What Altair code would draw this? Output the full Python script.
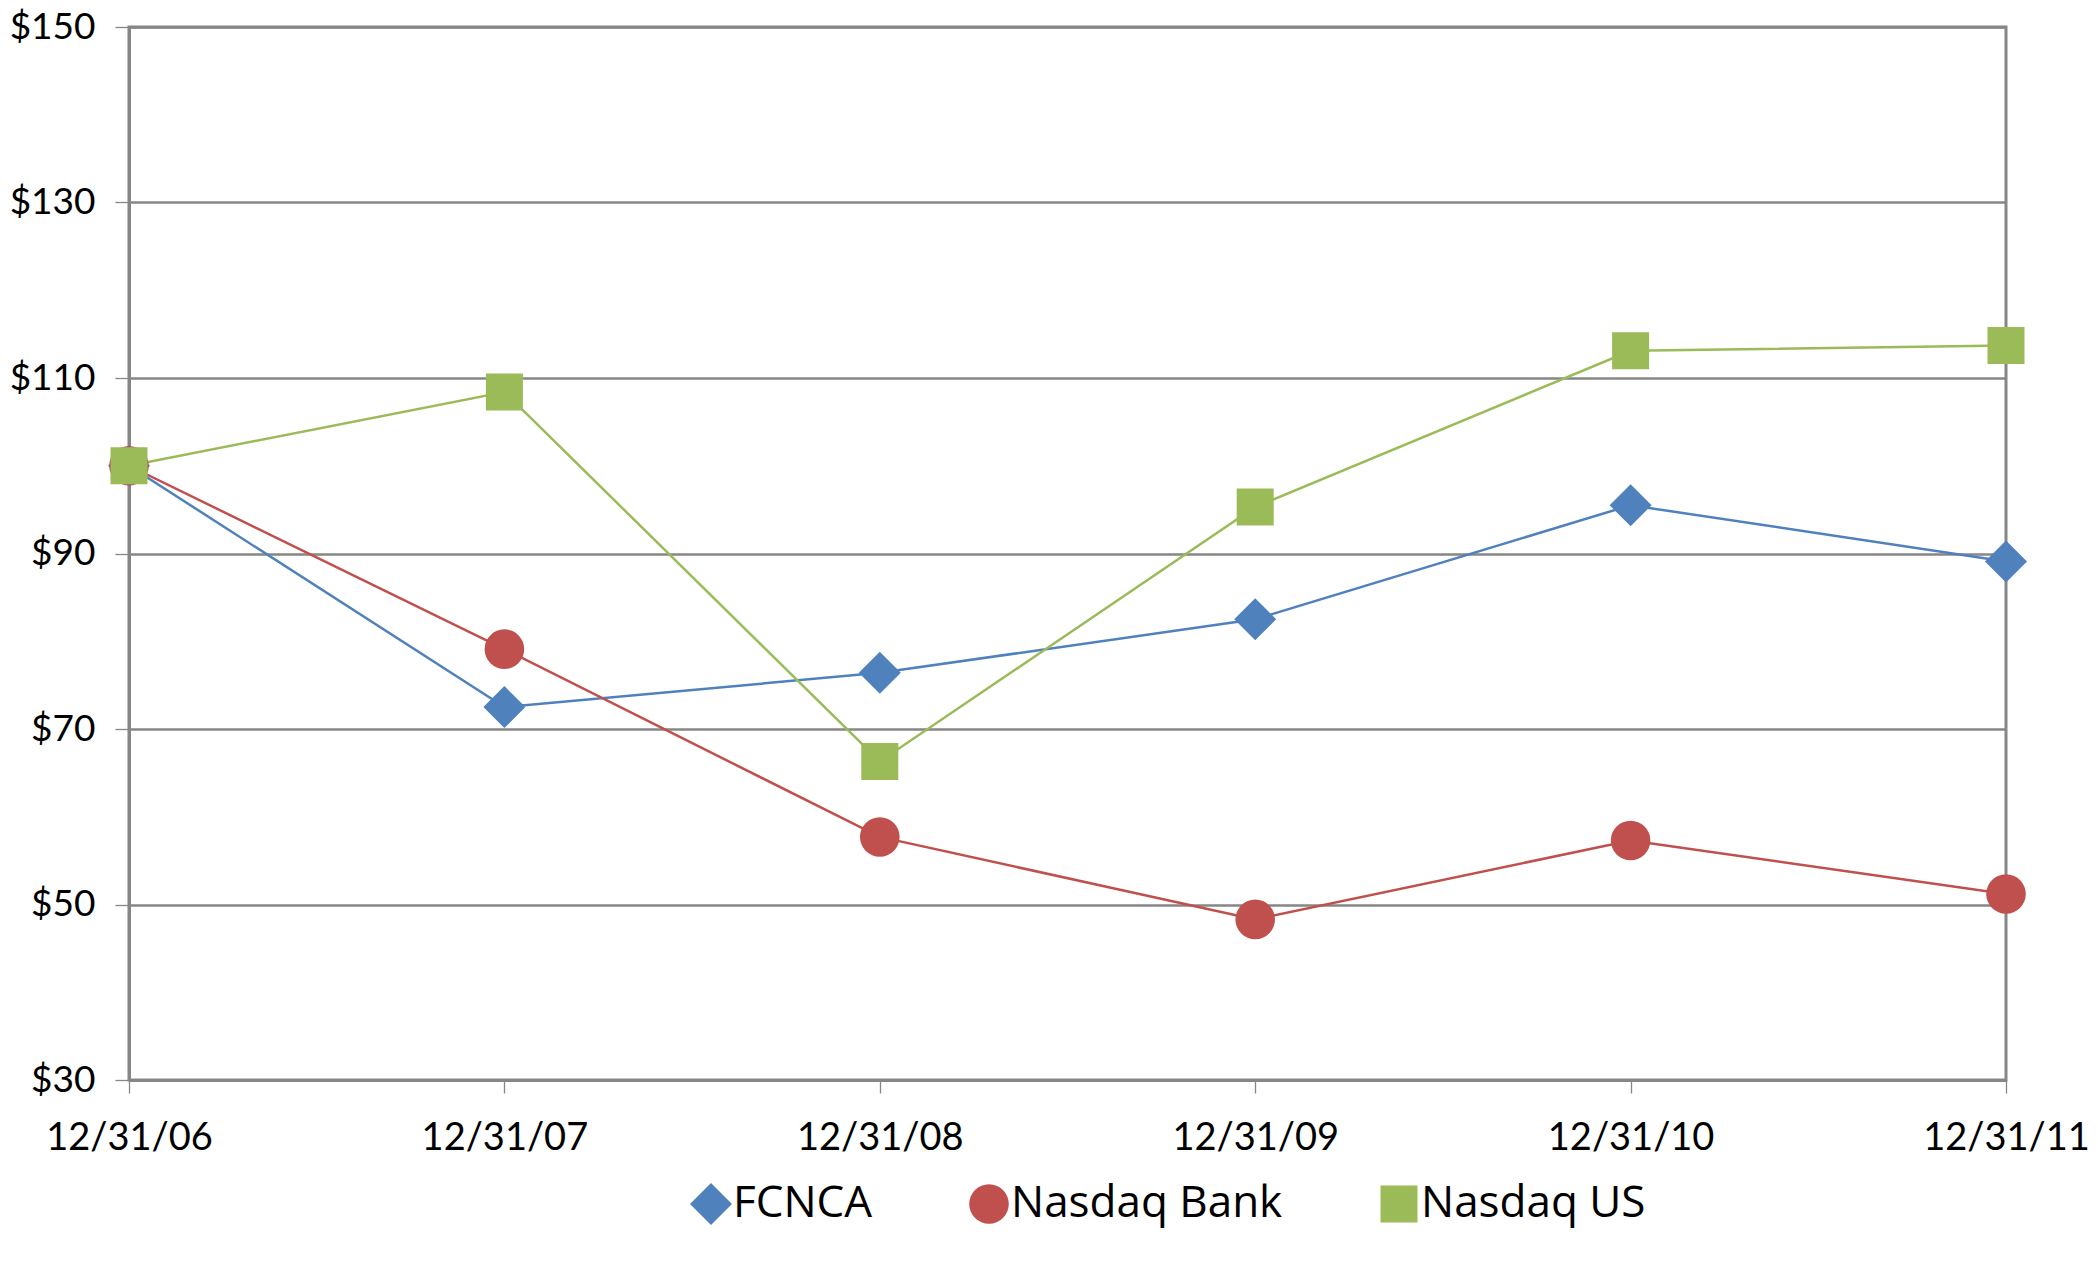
import altair as alt
import pandas as pd

dates = ["12/31/06", "12/31/07", "12/31/08", "12/31/09", "12/31/10", "12/31/11"]
fcnca = [100.0, 72.5, 76.4, 82.5, 95.5, 89.1]
nasdaq_bank = [100.0, 79.1, 57.7, 48.3, 57.3, 51.2]
nasdaq_us = [100.0, 108.4, 66.3, 95.3, 113.1, 113.7]

series_names = ["FCNCA", "Nasdaq Bank", "Nasdaq US"]
series_colors = ["#4F81BD", "#C0504D", "#9BBB59"]
series_shapes = ["diamond", "circle", "square"]
y_ticks = [30, 50, 70, 90, 110, 130, 150]

rows = []
for name, vals in zip(series_names, [fcnca, nasdaq_bank, nasdaq_us]):
    for d, v in zip(dates, vals):
        rows.append({"date": d, "value": v, "series": name})
df = pd.DataFrame(rows)

FONT = "Lato"
LEGEND_FONT = "Open Sans"
GRID = "#868686"

x_enc = alt.X(
    "date:O",
    sort=dates,
    scale=alt.Scale(type="point", padding=0),
    axis=alt.Axis(
        title=None,
        labelAngle=0,
        labelFont=FONT,
        labelFontSize=38,
        labelColor="#000000",
        labelPadding=26,
        tickSize=13,
        tickColor=GRID,
        tickWidth=1.3,
        domainColor=GRID,
        domainWidth=3,
        grid=False,
    ),
)
y_enc = alt.Y(
    "value:Q",
    scale=alt.Scale(domain=[30, 150], nice=False, zero=False),
    axis=alt.Axis(
        title=None,
        values=y_ticks,
        labelExpr="'$' + datum.value",
        labelFont=FONT,
        labelFontSize=37,
        labelColor="#000000",
        labelPadding=20,
        tickSize=14,
        tickColor=GRID,
        tickWidth=1.3,
        domainColor=GRID,
        domainWidth=3,
        grid=True,
        gridColor=GRID,
        gridWidth=2.5,
    ),
)
legend_cfg = alt.Legend(
    title=None,
    orient="none",
    direction="horizontal",
    legendX=560,
    legendY=1155,
    labelFont=LEGEND_FONT,
    labelFontSize=44,
    labelColor="#000000",
    labelOffset=0,
    symbolSize=1000,
    symbolStrokeWidth=0,
    columnPadding=94,
    padding=0,
    labelLimit=400,
)
color_enc = alt.Color(
    "series:N",
    scale=alt.Scale(domain=series_names, range=series_colors),
    legend=legend_cfg,
)
shape_enc = alt.Shape(
    "series:N",
    scale=alt.Scale(domain=series_names, range=series_shapes),
    legend=legend_cfg,
)

lines = alt.Chart(df).mark_line(strokeWidth=2.5).encode(
    x=x_enc, y=y_enc, color=color_enc, detail="series:N"
)

points = alt.Chart(df).mark_point(filled=True, opacity=1, strokeWidth=0).encode(
    x=x_enc,
    y=y_enc,
    color=color_enc,
    shape=shape_enc,
    size=alt.Size(
        "series:N",
        scale=alt.Scale(domain=series_names, range=[1764, 1370, 1000]),
        legend=None,
    ),
)

chart = (
    alt.layer(lines, points)
    .properties(
        width=1877,
        height=1053,
        autosize=alt.AutoSizeParams(type="none"),
        padding={"left": 121, "top": 19, "right": 84, "bottom": 170},
        background="white",
    )
    .configure_view(stroke=GRID, strokeWidth=3)
)

chart.save("out.html", embed_options={"renderer": "svg", "actions": False})
